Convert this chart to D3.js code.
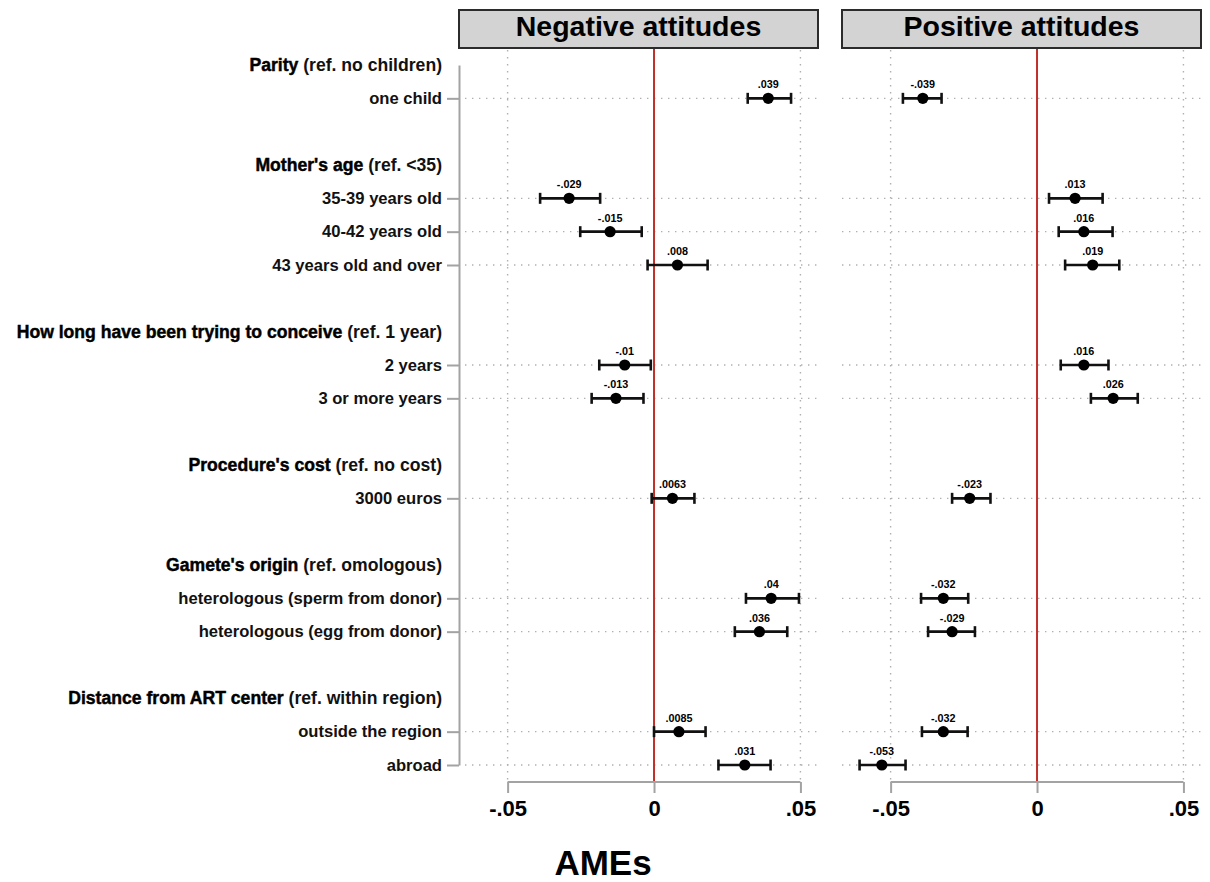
<!DOCTYPE html>
<html>
<head>
<meta charset="utf-8">
<script src="https://cdn.jsdelivr.net/npm/d3@7"></script>
<style>
  html, body { margin: 0; padding: 0; background: #fff; }
  svg { display: block; font-family: "Liberation Sans", Arial, Helvetica, sans-serif; }
</style>
</head>
<body>
<svg id="chart" width="1210" height="882"></svg>
<script>
// Covariate groups, their reference categories and levels
const groupTitles = ["Parity", "Mother's age", "How long have been trying to conceive",
  "Procedure's cost", "Gamete's origin", "Distance from ART center"];
const groupRefs = ["(ref. no children)", "(ref. <35)", "(ref. 1 year)",
  "(ref. no cost)", "(ref. omologous)", "(ref. within region)"];
const groupItems = [
  ["one child"],
  ["35-39 years old", "40-42 years old", "43 years old and over"],
  ["2 years", "3 or more years"],
  ["3000 euros"],
  ["heterologous (sperm from donor)", "heterologous (egg from donor)"],
  ["outside the region", "abroad"]
];

// Average marginal effects with 95% confidence bounds
const panelTitles = ["Negative attitudes", "Positive attitudes"];
const negEst = [0.039, -0.029, -0.015, 0.008, -0.01, -0.013, 0.0063, 0.04, 0.036, 0.0085, 0.031];
const negLo  = [0.032, -0.0389, -0.0252, -0.0022, -0.0187, -0.0213, -0.0008, 0.0314, 0.0276, 0.0000, 0.022];
const negHi  = [0.0468, -0.0184, -0.0042, 0.0183, -0.0011, -0.0036, 0.0138, 0.0495, 0.0455, 0.0176, 0.0398];
const posEst = [-0.039, 0.013, 0.016, 0.019, 0.016, 0.026, -0.023, -0.032, -0.029, -0.032, -0.053];
const posLo  = [-0.0458, 0.0041, 0.0074, 0.0096, 0.0081, 0.0184, -0.029, -0.0396, -0.0372, -0.0393, -0.0606];
const posHi  = [-0.0326, 0.0224, 0.0258, 0.0281, 0.0244, 0.0344, -0.0159, -0.0235, -0.0212, -0.0237, -0.0449];

const xTicks = [-0.05, 0, 0.05];
const xTitle = "AMEs";

// Stata-style number format: drop the leading zero
const fmt = v => String(v).replace(/^(-?)0\./, "$1.");

const svg = d3.select("#chart");

// Row layout: header, its items, then a blank spacer row
const headerRows = [];
const itemRows = [];
let r = 0;
groupTitles.forEach((t, g) => {
  headerRows.push({ title: t, ref: groupRefs[g], row: r });
  groupItems[g].forEach((lab, j) => itemRows.push({ label: lab, row: r + 1 + j }));
  r += groupItems[g].length + 2;
});
const lastRow = r - 2;

const y = d3.scaleLinear().domain([0, lastRow]).range([65, 765]);

const xDomain = [-0.0666, 0.056];
const panels = [
  { title: panelTitles[0], est: negEst, lo: negLo, hi: negHi,
    x: d3.scaleLinear().domain(xDomain).range([459, 818]) },
  { title: panelTitles[1], est: posEst, lo: posLo, hi: posHi,
    x: d3.scaleLinear().domain(xDomain).range([842, 1201]) }
];

const boxTop = 10, boxBottom = 48, axisY = 782;
const gridColor = "#b0b0b0";
const axisColor = "#a3a3a3";

panels.forEach((p, pi) => {
  const x = p.x;
  const [x0, x1] = x.range();
  const g = svg.append("g");

  // horizontal dotted grid on item rows
  g.selectAll("line.hgrid").data(itemRows).join("line")
    .attr("class", "hgrid")
    .attr("x1", x0 + (pi === 0 ? 6 : 0)).attr("x2", x1)
    .attr("y1", d => y(d.row)).attr("y2", d => y(d.row))
    .attr("stroke", gridColor).attr("stroke-width", 1.4)
    .attr("stroke-dasharray", "1.4,5.6");

  // vertical dotted grid at the outer ticks
  g.selectAll("line.vgrid").data(xTicks.filter(t => t !== 0)).join("line")
    .attr("class", "vgrid")
    .attr("x1", d => x(d)).attr("x2", d => x(d))
    .attr("y1", boxBottom + 2).attr("y2", axisY)
    .attr("stroke", gridColor).attr("stroke-width", 1.4)
    .attr("stroke-dasharray", "1.4,5.6");

  // reference line at zero
  g.append("line")
    .attr("x1", x(0)).attr("x2", x(0))
    .attr("y1", boxBottom).attr("y2", axisY)
    .attr("stroke", "#c0302a").attr("stroke-width", 2);

  // x axis: line only between the outer ticks
  const ax = g.append("g").attr("transform", `translate(0,${axisY})`)
    .call(d3.axisBottom(x).tickValues(xTicks).tickFormat(fmt)
      .tickSize(11).tickPadding(7));
  ax.select(".domain").remove();
  ax.selectAll(".tick line").attr("stroke", axisColor).attr("stroke-width", 2);
  ax.selectAll(".tick text")
    .attr("font-family", "'Liberation Sans', Arial, sans-serif")
    .attr("font-size", 22).attr("font-weight", "bold").attr("fill", "#000");
  ax.append("line")
    .attr("x1", x(xTicks[0])).attr("x2", x(xTicks[xTicks.length - 1]))
    .attr("stroke", axisColor).attr("stroke-width", 2);

  // panel title strip
  g.append("rect")
    .attr("x", x0).attr("y", boxTop)
    .attr("width", x1 - x0).attr("height", boxBottom - boxTop)
    .attr("fill", "#d3d3d3").attr("stroke", "#2b2b2b").attr("stroke-width", 2);
  g.append("text")
    .attr("x", (x0 + x1) / 2).attr("y", 36)
    .attr("text-anchor", "middle")
    .attr("font-size", 28.5).attr("font-weight", "bold").attr("fill", "#000")
    .text(p.title);

  // confidence intervals, estimates and value labels
  const pts = itemRows.map((d, i) => ({ row: d.row, est: p.est[i], lo: p.lo[i], hi: p.hi[i] }));
  const cap = 5.5;
  const m = g.selectAll("g.pt").data(pts).join("g").attr("class", "pt");
  m.append("line")
    .attr("x1", d => x(d.lo)).attr("x2", d => x(d.hi))
    .attr("y1", d => y(d.row)).attr("y2", d => y(d.row))
    .attr("stroke", "#111").attr("stroke-width", 2.6);
  m.append("line")
    .attr("x1", d => x(d.lo)).attr("x2", d => x(d.lo))
    .attr("y1", d => y(d.row) - cap).attr("y2", d => y(d.row) + cap)
    .attr("stroke", "#111").attr("stroke-width", 2.6);
  m.append("line")
    .attr("x1", d => x(d.hi)).attr("x2", d => x(d.hi))
    .attr("y1", d => y(d.row) - cap).attr("y2", d => y(d.row) + cap)
    .attr("stroke", "#111").attr("stroke-width", 2.6);
  m.append("circle")
    .attr("cx", d => x(d.est)).attr("cy", d => y(d.row)).attr("r", 5.6)
    .attr("fill", "#000");
  m.append("text")
    .attr("x", d => x(d.est)).attr("y", d => y(d.row) - 10)
    .attr("text-anchor", "middle")
    .attr("font-size", 10.8).attr("font-weight", "bold").attr("fill", "#000")
    .text(d => fmt(d.est));
});

// y axis with item labels (left panel only)
const ya = svg.append("g").attr("transform", "translate(459,0)")
  .call(d3.axisLeft(y)
    .tickValues(itemRows.map(d => d.row))
    .tickFormat(v => itemRows.find(d => d.row === v).label)
    .tickSize(12).tickSizeOuter(0).tickPadding(5));
ya.select(".domain").attr("stroke", axisColor).attr("stroke-width", 2);
ya.selectAll(".tick line").attr("stroke", axisColor).attr("stroke-width", 2);
ya.selectAll(".tick text")
  .attr("font-family", "'Liberation Sans', Arial, sans-serif")
  .attr("font-size", 16.6).attr("font-weight", "bold").attr("fill", "#111");

// group headers: bold title followed by the reference category
const hdr = svg.selectAll("text.hdr").data(headerRows).join("text")
  .attr("class", "hdr")
  .attr("x", 442).attr("y", d => y(d.row)).attr("dy", "0.35em")
  .attr("text-anchor", "end")
  .attr("font-size", 17.6).attr("font-weight", "bold").attr("fill", "#111");
hdr.append("tspan").text(d => d.title)
  .attr("fill", "#000").attr("stroke", "#000").attr("stroke-width", 0.45);
hdr.append("tspan").text(d => " " + d.ref);

// x axis title
svg.append("text")
  .attr("x", 603).attr("y", 875)
  .attr("text-anchor", "middle")
  .attr("font-size", 35).attr("font-weight", "bold").attr("fill", "#000")
  .text(xTitle);
</script>
</body>
</html>
